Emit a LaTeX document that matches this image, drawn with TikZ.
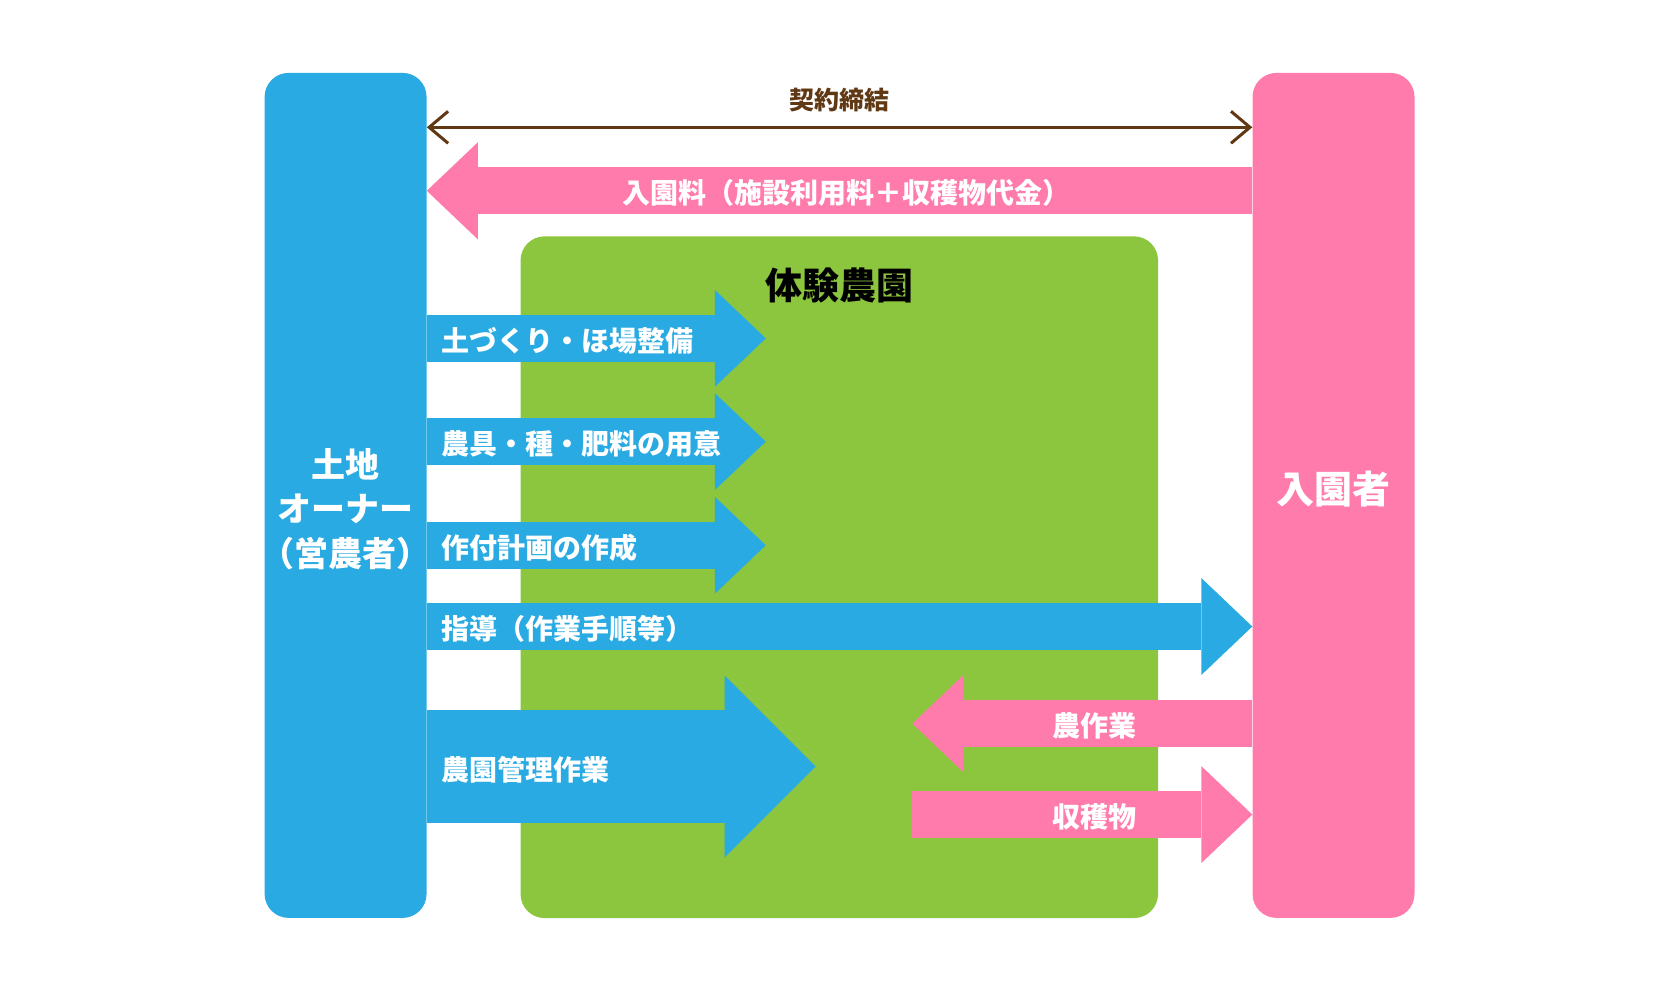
\documentclass[tikz,border=0pt]{standalone}
\usepackage{fontspec}
\setmainfont{Noto Sans CJK JP}
\usetikzlibrary{arrows.meta}
\definecolor{landblue}{HTML}{29AAE2}
\definecolor{guestpink}{HTML}{FF7BAC}
\definecolor{farmgreen}{HTML}{8CC63F}
\definecolor{dealbrown}{HTML}{603813}
\tikzstyle{panel} = [rounded corners=24bp, inner sep=0pt, minimum width=162bp, minimum height=845bp]
\tikzstyle{fat} = [line width=47bp, -{Triangle[length=51bp,width=97bp,line width=0pt]}]
\tikzstyle{lbl} = [inner sep=0pt, text=white, font=\bfseries\fontsize{28bp}{32bp}\selectfont]

\begin{document}
\begin{tikzpicture}[x=1bp,y=-1bp]
\useasboundingbox (0,0) rectangle (1679,991);
\node[panel, fill=landblue] (owner) at (345.6,495.4) {};
\node[panel, fill=guestpink] (guest) at (1333.5,495.4) {};
\node[panel, fill=farmgreen, minimum width=637.5bp, minimum height=681.7bp] (farm) at (839.3,577.2) {};
\node[lbl, align=center, font=\bfseries\fontsize{34bp}{44.5bp}\selectfont] (ownertxt) at (345.6,509) {土地\\オーナー\\（営農者）};
\node[lbl, font=\bfseries\fontsize{38bp}{44bp}\selectfont] (guesttxt) at (1333.5,489.4) {入園者};
\node[inner sep=0pt, font=\bfseries\fontsize{37bp}{44bp}\selectfont] (farmtxt) at (839.3,285.8) {体験農園};
% contract
\coordinate (deal) at (839.3,127.3);
\draw[dealbrown, line width=3bp, {Straight Barb[length=19bp,width=32bp]}-{Straight Barb[length=19bp,width=32bp]}] (owner.east |- deal) -- (guest.west |- deal);
\node[inner sep=0pt, text=dealbrown, font=\bfseries\fontsize{25bp}{30bp}\selectfont] (dealtxt) at (839.5,99.6) {契約締結};
% fee
\coordinate (fee) at (846.5,190.8);
\draw[fat, guestpink] (guest.west |- fee) -- (owner.east |- fee);
\node[lbl, yshift=-2.5bp] (feetxt) at (fee) {入園料（施設利用料＋収穫物代金）};
% owner to farm
\coordinate (a1) at (765.8,338.4);
\coordinate (a2) at (765.8,441.6);
\coordinate (a3) at (765.8,545.3);
\coordinate (a4) at (839.3,626.5);
\coordinate (a5) at (815.6,766.5);
\draw[fat, landblue] (owner.east |- a1) -- (a1);
\draw[fat, landblue] (owner.east |- a2) -- (a2);
\draw[fat, landblue] (owner.east |- a3) -- (a3);
\draw[fat, landblue] (owner.east |- a4) -- (guest.west |- a4);
\draw[landblue, line width=112.5bp, -{Triangle[length=91bp,width=182bp,line width=0pt]}] (owner.east |- a5) -- (a5);
\node[lbl, anchor=west] (t1) at (441,341) {土づくり・ほ場整備};
\node[lbl, anchor=west] (t2) at (441,444) {農具・種・肥料の用意};
\node[lbl, anchor=west] (t3) at (441,547.8) {作付計画の作成};
\node[lbl, anchor=west] (t4) at (441,629.3) {指導（作業手順等）};
\node[lbl, anchor=west] (t5) at (441,769.3) {農園管理作業};
% guest and farm
\coordinate (w1) at (912.4,723.6);
\coordinate (w2) at (912.2,814.6);
\draw[fat, guestpink] (guest.west |- w1) -- (w1);
\draw[fat, guestpink] (w2) -- (guest.west |- w2);
\node[lbl, yshift=-2.5bp] (work) at (1094.9,723.6) {農作業};
\node[lbl, yshift=-2.5bp] (crop) at (1094.9,814.6) {収穫物};
\end{tikzpicture}
\end{document}
